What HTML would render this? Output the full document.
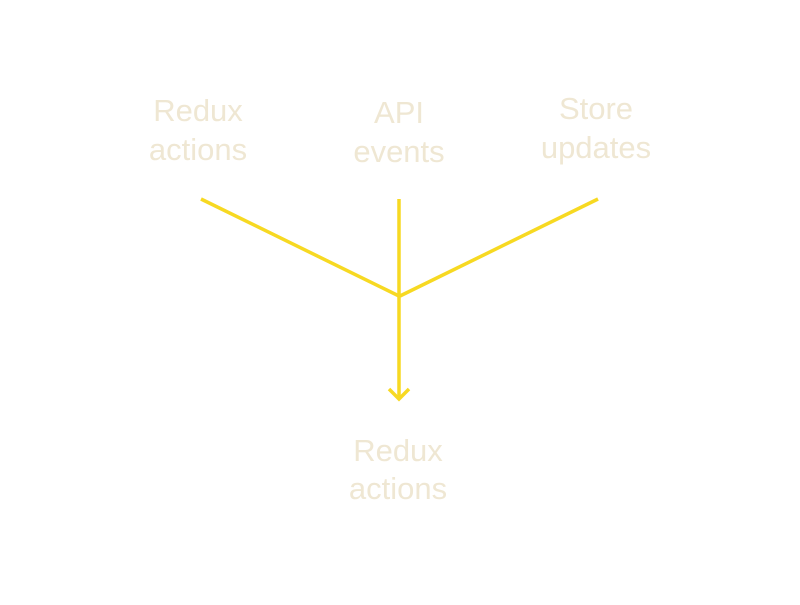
<!DOCTYPE html>
<html><head><meta charset="utf-8"><style>
html,body{margin:0;padding:0;background:#fff;}
</style></head><body>
<svg width="800" height="600" viewBox="0 0 800 600" xmlns="http://www.w3.org/2000/svg">
<rect width="800" height="600" fill="#fff"/>
<g font-family="Liberation Sans, sans-serif" font-size="31" fill="#efe7d3" text-anchor="middle">
<text x="198" y="121">Redux</text><text x="198" y="160">actions</text>
<text x="399" y="123">API</text><text x="399" y="162">events</text>
<text x="596" y="119">Store</text><text x="596" y="158">updates</text>
<text x="398" y="461">Redux</text><text x="398" y="499">actions</text>
</g>
<g stroke="#f7d922" stroke-width="3.5" fill="none" stroke-linecap="butt">
<line x1="201" y1="199" x2="399" y2="296"/>
<line x1="399" y1="199" x2="399" y2="399"/>
<line x1="598" y1="199" x2="400" y2="296"/>
<polyline points="389,389 399,399 409,389"/>
</g>
</svg>
</body></html>
